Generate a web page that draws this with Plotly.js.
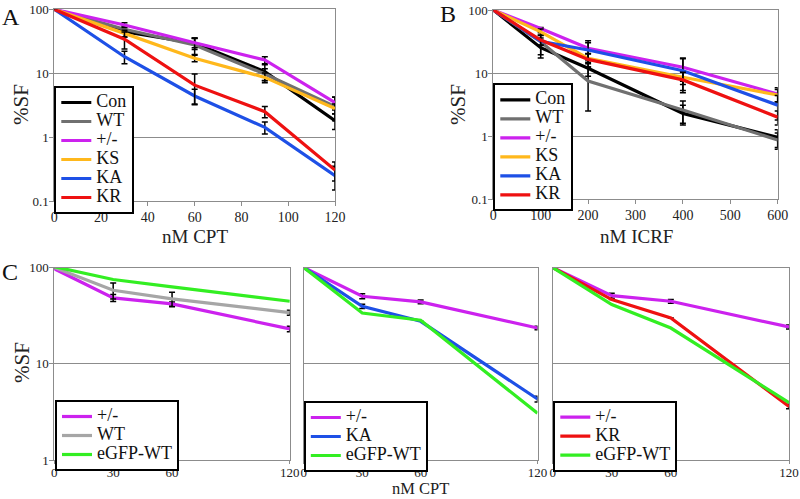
<!DOCTYPE html>
<html><head><meta charset="utf-8">
<script src="https://cdn.plot.ly/plotly-3.0.1.min.js"></script>
<style>body{margin:0;background:#fff}#g{width:800px;height:499px}</style>
</head><body><div id="g"></div>
<script>
// ---- Panel A: nM CPT ----
const xA = [0, 30, 60, 90, 120];
const aCon = [100, 44.7, 29.4, 10.6, 1.81];
const aWT  = [100, 48.6, 27.6, 9.7, 3.0];
const aHet = [100, 56.8, 30.0, 16.1, 3.46];
const aKS  = [100, 42.0, 17.1, 8.6, 2.8];
const aKA  = [100, 18.1, 4.4, 1.42, 0.249];
const aKR  = [100, 34.0, 6.5, 2.5, 0.306];
const eaCon = [0, 8, 6, 3, 0.5];
const eaWT  = [0, 6, 8, 2, 1.2];
const eaHet = [0, 5, 5, 2, 0.8];
const eaKS  = [0, 5, 2, 1.5, 0.5];
const eaKA  = [0, 4, 1.2, 0.3, 0.1];
const eaKR  = [0, 10, 3.2, 0.5, 0.1];
// ---- Panel B: nM ICRF ----
const xB = [0, 100, 200, 400, 600];
const bCon = [100, 25.3, 11.9, 2.3, 0.96];
const bWT  = [100, 31.5, 7.5, 2.6, 0.87];
const bHet = [100, 51, 24.7, 12.4, 4.67];
const bKS  = [100, 45, 17.1, 8.6, 4.5];
const bKA  = [100, 32, 23.2, 10.9, 3.1];
const bKR  = [100, 33.4, 16.5, 7.8, 2.0];
const ebCon = [0, 8, 3, 0.8, 0.3];
const ebWT  = [0, 12, 5, 1, 0.25];
const ebHet = [0, 2, 8, 5, 1.2];
const ebKS  = [0, 5, 3, 2, 1];
const ebKA  = [0, 4, 7, 6, 1.3];
const ebKR  = [0, 6, 4, 2.5, 0.5];
// ---- Panel C: nM CPT ----
const xC = [0, 30, 60, 120];
const c1Het = [97, 48.3, 41.9, 23];
const c1WT  = [100, 58, 47.2, 34];
const c1GFP = [102, 75, 63, 44.6];
const ec1Het = [0, 4, 2, 1.5];
const ec1WT  = [0, 11, 8, 2];
const c2Het = [100, 50.3, 44, 23.5];
const c2KA  = [100, 39.5, 27.6, 4.3];
const c2GFP = [100, 33.7, 28.3, 3.06];
const ec2Het = [0, 3, 2, 1];
const ec2KA  = [0, 2, 0, 0.3];
const c3Het = [100, 51, 44.6, 24.1];
const c3KR  = [100, 46.4, 29.9, 3.6];
const c3GFP = [100, 41.2, 23.5, 3.95];
const ec3Het = [0, 3, 2, 1.2];
const ec3KR  = [0, 0, 0, 0.2];

const xTicksA = [0, 20, 40, 60, 80, 100, 120];
const xTicksB = [0, 100, 200, 300, 400, 500, 600];
const xTicksC = [0, 30, 60, 120];

const COL = {Con:'#000000', WT:'#707070', WTc:'#a6a6a6', Het:'#cc22ee', KS:'#ffb81c', KA:'#1e50e6', KR:'#ee1111', GFP:'#33ee22'};
const FONT = '"Liberation Serif", "DejaVu Serif", serif';

function nm(t){ return '<span style="font-size:18px">' + t + '</span>'; }
function tr(x, y, e, name, color, xa, ya, leg){
  const t = {x:x, y:y, name:nm(name), mode:'lines', type:'scatter',
    line:{color:color, width:3.2}, xaxis:xa, yaxis:ya, legend:leg};
  if (e) t.error_y = {type:'data', array:e, visible:true, color:'#000', thickness:1.5, width:3};
  return t;
}
const data = [
  tr(xA, aCon, eaCon, 'Con', COL.Con, 'x', 'y', 'legend'),
  tr(xA, aWT, eaWT, 'WT', COL.WT, 'x', 'y', 'legend'),
  tr(xA, aHet, eaHet, '+/-', COL.Het, 'x', 'y', 'legend'),
  tr(xA, aKS, eaKS, 'KS', COL.KS, 'x', 'y', 'legend'),
  tr(xA, aKA, eaKA, 'KA', COL.KA, 'x', 'y', 'legend'),
  tr(xA, aKR, eaKR, 'KR', COL.KR, 'x', 'y', 'legend'),
  tr(xB, bCon, ebCon, 'Con', COL.Con, 'x2', 'y2', 'legend2'),
  tr(xB, bWT, ebWT, 'WT', COL.WT, 'x2', 'y2', 'legend2'),
  tr(xB, bHet, ebHet, '+/-', COL.Het, 'x2', 'y2', 'legend2'),
  tr(xB, bKS, ebKS, 'KS', COL.KS, 'x2', 'y2', 'legend2'),
  tr(xB, bKA, ebKA, 'KA', COL.KA, 'x2', 'y2', 'legend2'),
  tr(xB, bKR, ebKR, 'KR', COL.KR, 'x2', 'y2', 'legend2'),
  tr(xC, c1Het, ec1Het, '+/-', COL.Het, 'x3', 'y3', 'legend3'),
  tr(xC, c1WT, ec1WT, 'WT', COL.WTc, 'x3', 'y3', 'legend3'),
  tr(xC, c1GFP, null, 'eGFP-WT', COL.GFP, 'x3', 'y3', 'legend3'),
  tr(xC, c2Het, ec2Het, '+/-', COL.Het, 'x4', 'y4', 'legend4'),
  tr(xC, c2KA, ec2KA, 'KA', COL.KA, 'x4', 'y4', 'legend4'),
  tr(xC, c2GFP, null, 'eGFP-WT', COL.GFP, 'x4', 'y4', 'legend4'),
  tr(xC, c3Het, ec3Het, '+/-', COL.Het, 'x5', 'y5', 'legend5'),
  tr(xC, c3KR, ec3KR, 'KR', COL.KR, 'x5', 'y5', 'legend5'),
  tr(xC, c3GFP, null, 'eGFP-WT', COL.GFP, 'x5', 'y5', 'legend5')
];

const W = 800, H = 499;
const dx = p => p / W, dy = p => 1 - p / H;
function xax(l, r, range, ticks, anchor, fs, tl, tso){
  return {domain:[dx(l), dx(r)], range:range, tickvals:ticks, ticktext:ticks.map(String),
    showgrid:false, zeroline:false, showline:true, mirror:true, linecolor:'#8c8c8c', linewidth:1,
    ticks:'outside', ticklen:tl, tickcolor:'#8c8c8c', ticklabelstandoff:tso,
    tickfont:{family:FONT, size:fs, color:'#222'}, anchor:anchor};
}
function yax(t, b, range, ticks, showLabels, anchor){
  return {type:'log', domain:[dy(b), dy(t)], range:range, tickvals:ticks, ticktext:ticks.map(String),
    showticklabels:showLabels, showgrid:true, gridcolor:'#8c8c8c', gridwidth:1,
    zeroline:false, showline:true, mirror:true, linecolor:'#8c8c8c', linewidth:1,
    ticks: showLabels ? 'outside' : '', ticklen:4, tickcolor:'#8c8c8c', ticklabelstandoff:-2,
    tickfont:{family:FONT, size:13, color:'#222'}, anchor:anchor};
}
function leg(l, t){
  return {x:dx(l), y:dy(t), xanchor:'left', yanchor:'top', bgcolor:'#fff',
    bordercolor:'#000', borderwidth:2, font:{size:12, color:'#111', family:FONT},
    tracegroupgap:0, itemwidth:30};
}
function lab(text, px, py, size, angle, ya){
  return {text:text, x:dx(px), y:dy(py), xref:'paper', yref:'paper', xanchor:'center', yanchor:ya||'middle',
    showarrow:false, textangle:angle||0, borderpad:0, font:{family:FONT, size:size, color:'#222'}};
}
const layout = {
  width:W, height:H, margin:{l:0, r:0, t:0, b:0}, paper_bgcolor:'#fff', plot_bgcolor:'#fff',
  font:{family:FONT, color:'#222'}, showlegend:true,
  xaxis: xax(54.3, 335, [0, 120], xTicksA, 'y', 14, 4, -1),
  yaxis: yax(9.3, 201, [-1, 2], [0.1, 1, 10, 100], true, 'x'),
  xaxis2: xax(493.3, 777.7, [0, 600], xTicksB, 'y2', 14, 4, -1),
  yaxis2: yax(10, 199.3, [-1, 2], [0.1, 1, 10, 100], true, 'x2'),
  xaxis3: xax(54.3, 289.8, [0, 120], xTicksC, 'y3', 13, 3, -3),
  yaxis3: yax(267.5, 460, [0, 2], [1, 10, 100], true, 'x3'),
  xaxis4: xax(303.8, 537.5, [0, 120], xTicksC, 'y4', 13, 3, -3),
  yaxis4: yax(267.5, 460, [0, 2], [1, 10, 100], false, 'x4'),
  xaxis5: xax(552.7, 789, [0, 120], xTicksC, 'y5', 13, 3, -3),
  yaxis5: yax(267.5, 460, [0, 2], [1, 10, 100], false, 'x5'),
  legend: leg(54.3, 86),
  legend2: leg(493.3, 83.3),
  legend3: leg(55, 400),
  legend4: leg(303.8, 401),
  legend5: leg(553.3, 400.7),
  annotations: [
    lab('nM CPT', 195, 237, 19),
    lab('nM ICRF', 636, 237, 19),
    lab('%SF', 21, 105, 21, -90),
    lab('%SF', 458, 105, 21, -90),
    lab('%SF', 22, 363, 21, -90),
    lab('nM CPT', 420, 499, 16.5, 0, 'bottom'),
    {text:'A', x:0, y:dy(2), xref:'paper', yref:'paper', xanchor:'left', yanchor:'top', showarrow:false, font:{family:FONT, size:24, color:'#111'}},
    {text:'B', x:dx(438), y:dy(-1), xref:'paper', yref:'paper', xanchor:'left', yanchor:'top', showarrow:false, font:{family:FONT, size:24, color:'#111'}},
    {text:'C', x:0, y:dy(257), xref:'paper', yref:'paper', xanchor:'left', yanchor:'top', showarrow:false, font:{family:FONT, size:24, color:'#111'}}
  ]
};
Plotly.newPlot('g', data, layout, {displayModeBar:false, staticPlot:true});
</script></body></html>
